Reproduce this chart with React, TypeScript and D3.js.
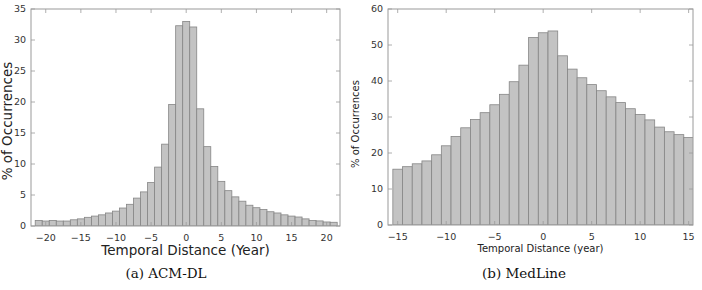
import * as d3 from "d3";

// (a) ACM-DL: temporal distance -21..21, % of occurrences
const acmYears = d3.range(-21, 22);
const acmValues = [
  0.9, 0.8, 0.9, 0.8, 0.8, 1.0, 1.15, 1.4, 1.6, 1.8, 2.1, 2.4, 2.9, 3.5, 4.5, 5.5, 7.0, 9.5,
  13.2, 19.6, 32.3, 33.0, 32.1, 18.9, 12.8, 9.6, 7.2, 5.7, 4.7, 4.0, 3.35, 2.95, 2.65, 2.3,
  2.1, 1.8, 1.6, 1.45, 1.15, 0.88, 0.82, 0.65, 0.6,
];
const acmXTicks = [-20, -15, -10, -5, 0, 5, 10, 15, 20];
const acmYTicks = [0, 5, 10, 15, 20, 25, 30, 35];

// (b) MedLine: temporal distance -15..15
const medYears = d3.range(-15, 16);
const medValues = [
  15.5, 16.2, 17.0, 17.8, 19.5, 22.0, 24.6, 27.0, 29.3, 31.2, 33.4, 36.3, 39.8, 44.4, 52.1,
  53.4, 53.9, 47.0, 43.3, 40.9, 39.0, 37.3, 35.6, 34.0, 32.3, 30.7, 29.2, 27.2, 25.9, 25.1,
  24.3,
];
const medXTicks = [-15, -10, -5, 0, 5, 10, 15];
const medYTicks = [0, 10, 20, 30, 40, 50, 60];

const FONT = "'DejaVu Sans', sans-serif";
const BAR_FILL = "#c3c3c3";
const BAR_STROKE = "#858585";
const FRAME = "#9a9a9a";
const fmt = (v: number) => (v < 0 ? `\u2212${-v}` : `${v}`);

type PanelProps = {
  id: string;
  years: number[];
  values: number[];
  xTicks: number[];
  yTicks: number[];
  xDomain: [number, number];
  yDomain: [number, number];
  box: { left: number; right: number; top: number; bottom: number };
  tickSize: number;
  xLabel: string;
  xLabelSize: number;
  xLabelY: number;
  yLabelSize: number;
  yLabelX: number;
  yLabelY: number;
  tickLabelY: number;
  caption: string;
  captionX: number;
};

function Panel(p: PanelProps) {
  const x = d3.scaleLinear().domain(p.xDomain).range([p.box.left, p.box.right]);
  const y = d3.scaleLinear().domain(p.yDomain).range([p.box.bottom, p.box.top]);
  const t = 4;
  const w = p.box.right - p.box.left;
  const h = p.box.bottom - p.box.top;
  return (
    <g>
      <defs>
        <clipPath id={`clip-${p.id}`}>
          <rect x={p.box.left} y={p.box.top} width={w} height={h} />
        </clipPath>
      </defs>
      <g clipPath={`url(#clip-${p.id})`}>
        {p.years.map((yr, i) => (
          <rect
            key={yr}
            x={x(yr - 0.5)}
            y={y(p.values[i])}
            width={x(yr + 0.5) - x(yr - 0.5)}
            height={y(0) - y(p.values[i])}
            fill={BAR_FILL}
            stroke={BAR_STROKE}
            strokeWidth={0.8}
          />
        ))}
      </g>
      {/* gnuplot-style mirrored ticks, pointing inward */}
      {p.xTicks.map((v) => (
        <g key={`xt${v}`} stroke={FRAME} strokeWidth={0.8}>
          <line x1={x(v)} x2={x(v)} y1={p.box.bottom} y2={p.box.bottom - t} />
          <line x1={x(v)} x2={x(v)} y1={p.box.top} y2={p.box.top + t} />
        </g>
      ))}
      {p.yTicks.map((v) => (
        <g key={`yt${v}`} stroke={FRAME} strokeWidth={0.8}>
          <line x1={p.box.left} x2={p.box.left + t} y1={y(v)} y2={y(v)} />
          <line x1={p.box.right} x2={p.box.right - t} y1={y(v)} y2={y(v)} />
        </g>
      ))}
      <rect
        x={p.box.left}
        y={p.box.top}
        width={w}
        height={h}
        fill="none"
        stroke={FRAME}
        strokeWidth={1}
      />
      {p.xTicks.map((v) => (
        <text
          key={`xl${v}`}
          x={x(v)}
          y={p.tickLabelY}
          textAnchor="middle"
          fontSize={p.tickSize}
          fontFamily={FONT}
          fill="#333"
        >
          {fmt(v)}
        </text>
      ))}
      {p.yTicks.map((v) => (
        <text
          key={`yl${v}`}
          x={p.box.left - 5}
          y={y(v)}
          dy="0.35em"
          textAnchor="end"
          fontSize={p.tickSize}
          fontFamily={FONT}
          fill="#333"
        >
          {v}
        </text>
      ))}
      <text
        x={(p.box.left + p.box.right) / 2}
        y={p.xLabelY}
        textAnchor="middle"
        fontSize={p.xLabelSize}
        fontFamily={FONT}
        fill="#222"
      >
        {p.xLabel}
      </text>
      <text
        transform={`translate(${p.yLabelX},${p.yLabelY}) rotate(-90)`}
        textAnchor="middle"
        fontSize={p.yLabelSize}
        fontFamily={FONT}
        fill="#222"
      >
        % of Occurrences
      </text>
      <text
        x={p.captionX}
        y={278}
        textAnchor="middle"
        fontSize={13.5}
        fontFamily="'DejaVu Serif', serif"
        fill="#111"
      >
        {p.caption}
      </text>
    </g>
  );
}

export default function App() {
  return (
    <svg
      width={702}
      height={290}
      style={{ position: "absolute", left: 0, top: 0, background: "#fff" }}
    >
      <Panel
        id="acm"
        years={acmYears}
        values={acmValues}
        xTicks={acmXTicks}
        yTicks={acmYTicks}
        xDomain={[-22.1, 21.9]}
        yDomain={[0, 35]}
        box={{ left: 31, right: 340, top: 9, bottom: 226 }}
        tickSize={9.5}
        xLabel="Temporal Distance (Year)"
        xLabelSize={13.5}
        xLabelY={255}
        yLabelSize={13.5}
        yLabelX={12}
        yLabelY={121}
        tickLabelY={241}
        caption="(a) ACM-DL"
        captionX={166}
      />
      <Panel
        id="med"
        years={medYears}
        values={medValues}
        xTicks={medXTicks}
        yTicks={medYTicks}
        xDomain={[-16, 15.45]}
        yDomain={[0, 60]}
        box={{ left: 388, right: 693, top: 9, bottom: 225 }}
        tickSize={9.5}
        xLabel="Temporal Distance (year)"
        xLabelSize={10}
        xLabelY={252}
        yLabelSize={10}
        yLabelX={359}
        yLabelY={124}
        tickLabelY={240}
        caption="(b) MedLine"
        captionX={524}
      />
    </svg>
  );
}
